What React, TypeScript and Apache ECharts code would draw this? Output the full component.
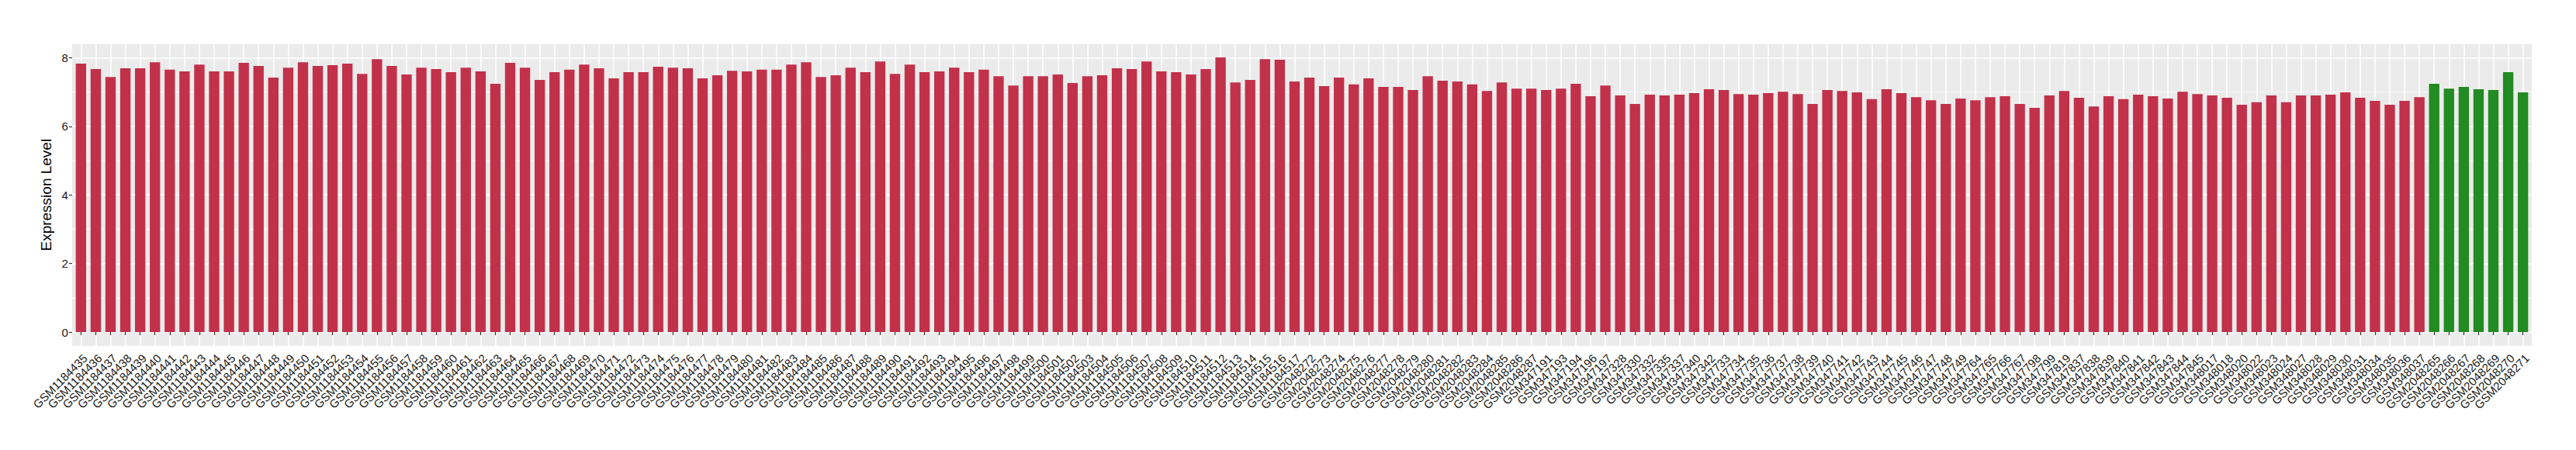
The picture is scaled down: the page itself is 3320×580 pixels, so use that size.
import React, { useEffect, useRef } from "react";
import * as echarts from "echarts";

const tumorSamples = [
  "GSM1184435", "GSM1184436", "GSM1184437", "GSM1184438", "GSM1184439", "GSM1184440", "GSM1184441", "GSM1184442",
  "GSM1184443", "GSM1184444", "GSM1184445", "GSM1184446", "GSM1184447", "GSM1184448", "GSM1184449", "GSM1184450",
  "GSM1184451", "GSM1184452", "GSM1184453", "GSM1184454", "GSM1184455", "GSM1184456", "GSM1184457", "GSM1184458",
  "GSM1184459", "GSM1184460", "GSM1184461", "GSM1184462", "GSM1184463", "GSM1184464", "GSM1184465", "GSM1184466",
  "GSM1184467", "GSM1184468", "GSM1184469", "GSM1184470", "GSM1184471", "GSM1184472", "GSM1184473", "GSM1184474",
  "GSM1184475", "GSM1184476", "GSM1184477", "GSM1184478", "GSM1184479", "GSM1184480", "GSM1184481", "GSM1184482",
  "GSM1184483", "GSM1184484", "GSM1184485", "GSM1184486", "GSM1184487", "GSM1184488", "GSM1184489", "GSM1184490",
  "GSM1184491", "GSM1184492", "GSM1184493", "GSM1184494", "GSM1184495", "GSM1184496", "GSM1184497", "GSM1184498",
  "GSM1184499", "GSM1184500", "GSM1184501", "GSM1184502", "GSM1184503", "GSM1184504", "GSM1184505", "GSM1184506",
  "GSM1184507", "GSM1184508", "GSM1184509", "GSM1184510", "GSM1184511", "GSM1184512", "GSM1184513", "GSM1184514",
  "GSM1184515", "GSM1184516", "GSM1184517",
  "GSM2048272", "GSM2048273", "GSM2048274", "GSM2048275", "GSM2048276", "GSM2048277", "GSM2048278", "GSM2048279",
  "GSM2048280", "GSM2048281", "GSM2048282", "GSM2048283", "GSM2048284", "GSM2048285", "GSM2048286", "GSM2048287",
  "GSM347191", "GSM347193", "GSM347194", "GSM347196", "GSM347197",
  "GSM347328", "GSM347330", "GSM347332", "GSM347335", "GSM347337", "GSM347340", "GSM347342",
  "GSM347733", "GSM347734", "GSM347735", "GSM347736", "GSM347737", "GSM347738", "GSM347739", "GSM347740",
  "GSM347741", "GSM347742", "GSM347743", "GSM347744", "GSM347745", "GSM347746", "GSM347747", "GSM347748",
  "GSM347749", "GSM347764", "GSM347765", "GSM347766", "GSM347767", "GSM347798", "GSM347799", "GSM347819",
  "GSM347837", "GSM347838", "GSM347839", "GSM347840", "GSM347841", "GSM347842", "GSM347843", "GSM347844",
  "GSM347845",
  "GSM348017", "GSM348018", "GSM348020", "GSM348022", "GSM348023", "GSM348024", "GSM348027", "GSM348028",
  "GSM348029", "GSM348030", "GSM348031", "GSM348034", "GSM348035", "GSM348036", "GSM348037",
];

const tumorValues = [
  7.83, 7.67, 7.44, 7.69, 7.69, 7.87, 7.65, 7.60, 7.80, 7.60, 7.60, 7.85, 7.76, 7.42, 7.71, 7.87,
  7.76, 7.78, 7.83, 7.53, 7.96, 7.76, 7.51, 7.71, 7.67, 7.58, 7.71, 7.60, 7.24, 7.85, 7.71, 7.35,
  7.58, 7.65, 7.80, 7.69, 7.40, 7.58, 7.58, 7.74, 7.71, 7.69, 7.40, 7.49, 7.62, 7.60, 7.65, 7.65,
  7.80, 7.87, 7.44, 7.49, 7.71, 7.58, 7.89, 7.53, 7.80, 7.58, 7.60, 7.71, 7.58, 7.65, 7.46, 7.19,
  7.46, 7.46, 7.51, 7.26, 7.46, 7.49, 7.69, 7.67, 7.89, 7.60, 7.58, 7.51, 7.67, 8.01, 7.28, 7.35,
  7.96, 7.94, 7.31,
  7.42, 7.17, 7.42, 7.22, 7.40, 7.15, 7.15, 7.06, 7.46, 7.33, 7.31, 7.22, 7.03, 7.28, 7.10, 7.10,
  7.06, 7.10, 7.24, 6.88, 7.19,
  6.90, 6.65, 6.92, 6.90, 6.92, 6.97, 7.08,
  7.06, 6.94, 6.92, 6.97, 7.01, 6.94, 6.65, 7.06, 7.03, 6.99, 6.79, 7.08, 6.97, 6.85, 6.76, 6.65,
  6.81, 6.76, 6.85, 6.88, 6.65, 6.54, 6.90, 7.03, 6.83, 6.58, 6.88, 6.79, 6.92, 6.88, 6.81, 7.01,
  6.94,
  6.90, 6.83, 6.63, 6.70, 6.90, 6.70, 6.90, 6.90, 6.92, 6.99, 6.83, 6.74, 6.63, 6.74, 6.85,
];

const normalSamples = [
  "GSM2048265", "GSM2048266", "GSM2048267", "GSM2048268", "GSM2048269", "GSM2048270", "GSM2048271",
];
const normalValues = [7.24, 7.10, 7.15, 7.08, 7.06, 7.58, 6.99];

const yTickValues = [0, 2, 4, 6, 8];
const yAxisTitle = "Expression Level";

export default function App() {
  const ref = useRef<HTMLDivElement>(null);

  useEffect(() => {
    const chart = echarts.init(ref.current!, null, { renderer: "svg" });
    const categories = [...tumorSamples, ...normalSamples];
    const data = [
      ...tumorValues.map((v) => ({ value: v, itemStyle: { color: "#C2314A" } })),
      ...normalValues.map((v) => ({ value: v, itemStyle: { color: "#228B22" } })),
    ];
    const font = "'Liberation Sans', Arial, Helvetica, sans-serif";
    const W = 3320;
    const pLeft = 92.9;
    const pRight = 56.9;
    const pTop = 56.7;
    const pBottom = 134.3;
    const band = (W - pLeft - pRight) / (categories.length + 0.2);
    const white = "#FFFFFF";
    const tickColor = "#333333";

    chart.setOption({
      animation: false,
      grid: [
        {
          left: pLeft, right: pRight, top: pTop, bottom: pBottom,
          show: true, backgroundColor: "#EBEBEB", borderWidth: 0,
        },
        {
          left: pLeft + 0.1 * band, right: pRight + 0.1 * band, top: pTop, bottom: pBottom,
        },
      ],
      xAxis: [
        { gridIndex: 0, type: "value", min: 0, max: 1, show: false },
        {
          gridIndex: 1,
          type: "category",
          data: categories,
          axisLine: { show: false },
          axisTick: {
            show: true, alignWithLabel: true, interval: 0, length: 4,
            lineStyle: { color: tickColor, width: 1.2 },
          },
          axisLabel: {
            interval: 0, rotate: 45, align: "right", verticalAlign: "top", margin: 8,
            fontSize: 15, color: "#1A1A1A", fontFamily: font,
          },
          splitLine: {
            show: true, interval: 0, alignWithLabel: true,
            lineStyle: { color: white, width: 1.6 },
          },
        },
      ],
      yAxis: [
        {
          gridIndex: 0,
          type: "value",
          min: -0.4,
          max: 8.4,
          name: yAxisTitle,
          nameLocation: "middle",
          nameGap: 20,
          nameTextStyle: { fontSize: 19, color: "#000000", fontFamily: font },
          axisLine: { show: false },
          axisTick: {
            show: true, length: 4, customValues: yTickValues,
            lineStyle: { color: tickColor, width: 1.2 },
          },
          axisLabel: {
            customValues: yTickValues, margin: 5, fontSize: 15, color: "#1A1A1A", fontFamily: font,
            formatter: (v: number) => (Math.abs(v % 2) < 1e-9 ? String(Math.round(v)) : ""),
          },
          splitLine: { show: true, lineStyle: { color: white, width: 1.6 } },
          minorTick: { show: false, splitNumber: 2 },
          minorSplitLine: { show: true, lineStyle: { color: white, width: 0.8 } },
        },
        { gridIndex: 1, type: "value", min: -0.4, max: 8.4, show: false },
      ],
      series: [
        {
          type: "bar",
          xAxisIndex: 1,
          yAxisIndex: 1,
          data,
          barWidth: "70%",
        },
      ],
    });
    return () => chart.dispose();
  }, []);

  return (
    <div
      ref={ref}
      style={{ position: "absolute", left: 0, top: 0, width: 3320, height: 580 }}
    />
  );
}
